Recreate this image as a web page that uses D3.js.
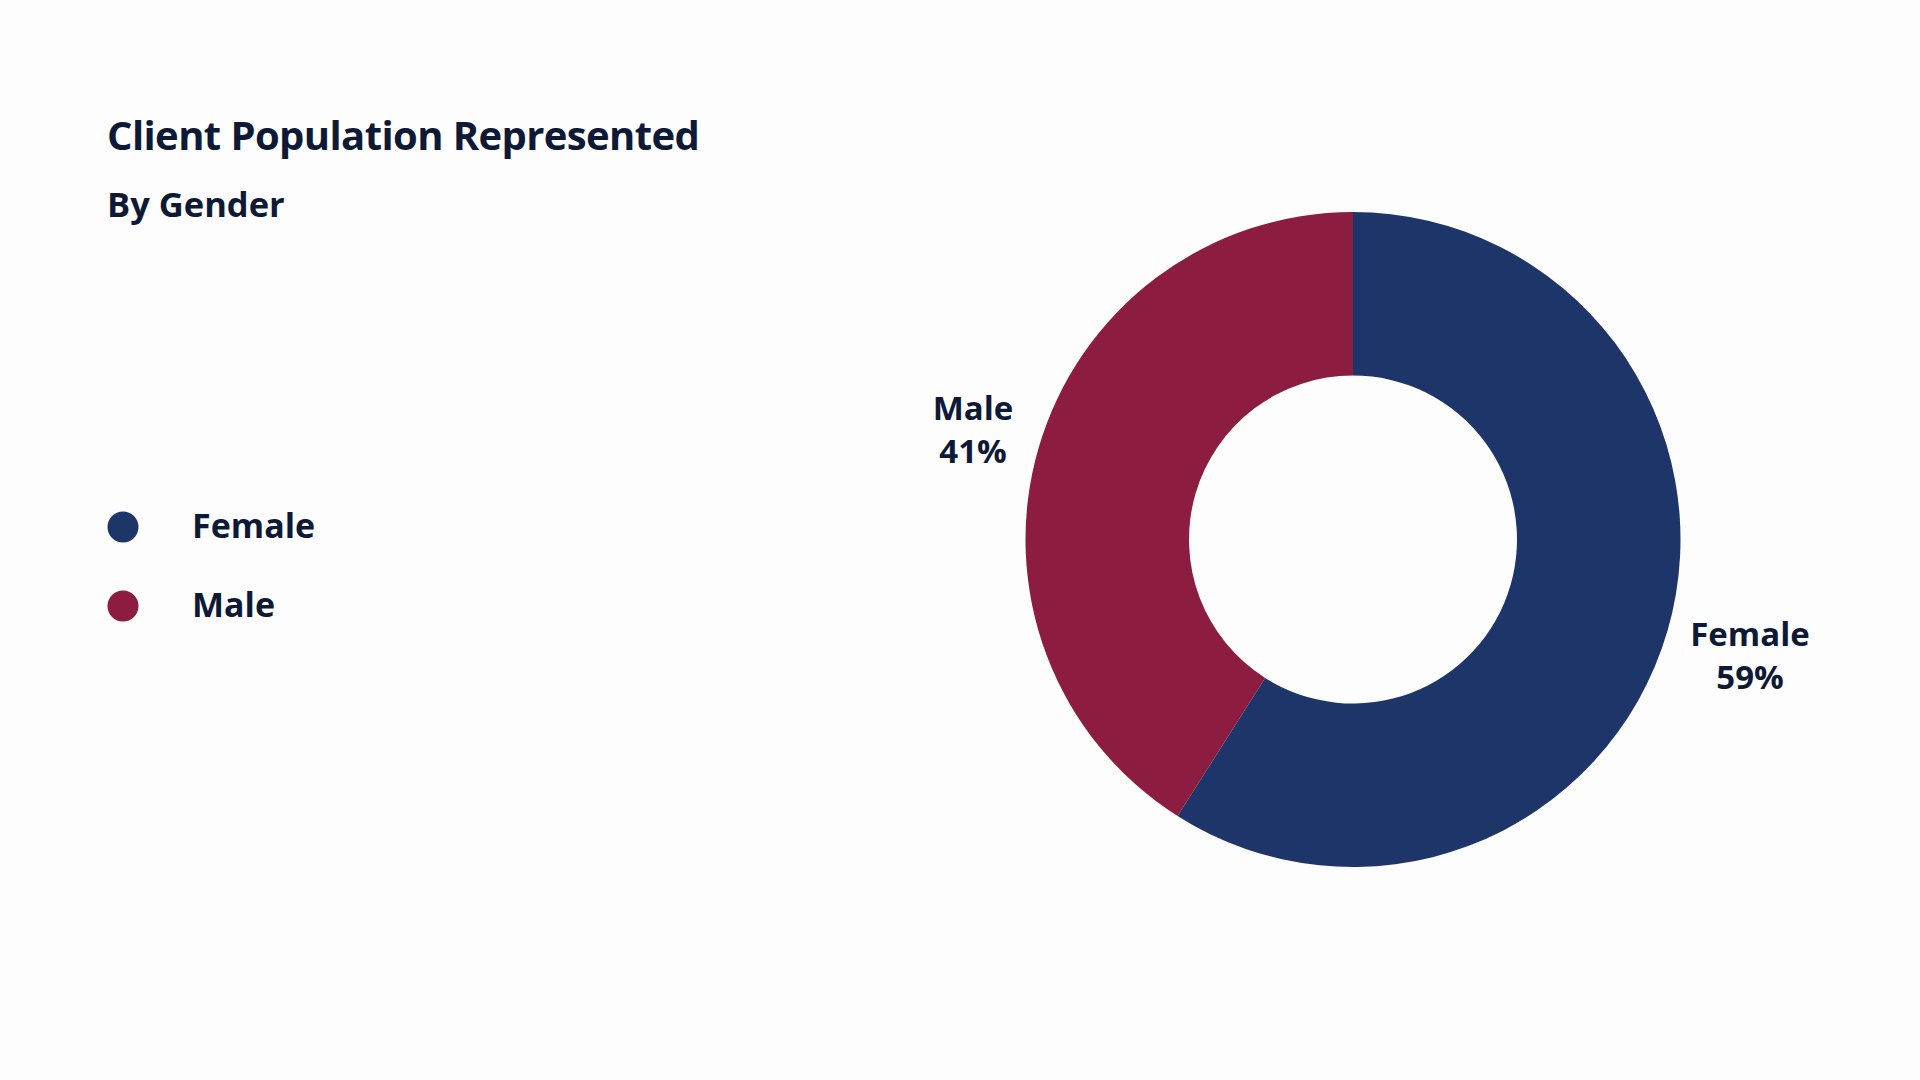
<!DOCTYPE html>
<html><head><meta charset="utf-8">
<script src="https://cdn.jsdelivr.net/npm/d3@7"></script>
<style>
html,body{margin:0;padding:0;background:#fdfdfd;}
svg{display:block;font-family:"Open Sans",Lato,sans-serif;}
</style></head>
<body>
<svg id="chart" width="1920" height="1080"></svg>
<script>
const categories = ["Female","Male"];
const values = [59, 41];
const colors = ["#1e3569","#8c1c40"];
const titleText = "Client Population Represented";
const subtitleText = "By Gender";

const svg = d3.select("#chart");
const textColor = "#0e1a35";
svg.append("rect").attr("width",1920).attr("height",1080).attr("fill","#fdfdfd");

svg.append("text").attr("x",107).attr("y",150).attr("fill",textColor)
  .attr("font-size",40).attr("font-weight",700).attr("letter-spacing",-0.6).text(titleText);
svg.append("text").attr("x",107).attr("y",217).attr("fill",textColor)
  .attr("font-size",34.5).attr("font-weight",700).text(subtitleText);

const color = d3.scaleOrdinal().domain(categories).range(colors);

// legend
const legend = svg.append("g");
const ly = d3.scalePoint().domain(categories).range([527,606]);
categories.forEach(c=>{
  legend.append("circle").attr("cx",123).attr("cy",ly(c)).attr("r",15.5).attr("fill",color(c));
  legend.append("text").attr("x",192).attr("y",ly(c)+11).attr("fill",textColor)
    .attr("font-size",34).attr("font-weight",700).text(c);
});

// donut
const cx = 1353, cy = 539.5, rOuter = 327.5, rInner = 164;
const pie = d3.pie().sort(null).value(d=>d.v);
const data = categories.map((c,i)=>({c, v: values[i]}));
const arcs = pie(data);
const arc = d3.arc().innerRadius(rInner).outerRadius(rOuter);
const g = svg.append("g").attr("transform",`translate(${cx},${cy})`);
g.selectAll("path").data(arcs).join("path").attr("d",arc).attr("fill",d=>color(d.data.c));

// outside labels
const labelPos = {"Female":[1750,646],"Male":[973,420]};
arcs.forEach(a=>{
  const [lx,lyy] = labelPos[a.data.c];
  const t = svg.append("text").attr("text-anchor","middle").attr("fill",textColor)
    .attr("font-size",33).attr("font-weight",700);
  t.append("tspan").attr("x",lx).attr("y",lyy).text(a.data.c);
  t.append("tspan").attr("x",lx).attr("y",lyy+43).text(Math.round(a.data.v)+"%");
});
</script>
</body></html>
